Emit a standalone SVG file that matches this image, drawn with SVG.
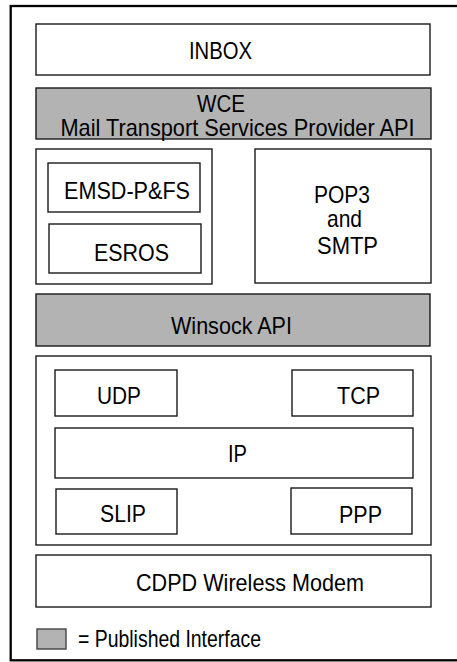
<svg xmlns="http://www.w3.org/2000/svg" width="457" height="662" viewBox="0 0 457 662">
<style>
.box{fill:#ffffff;stroke:#1a1a1a;stroke-width:1.4}
.pub{fill:#b3b3b3;stroke:#1a1a1a;stroke-width:1.4}
.t{font-family:"Liberation Sans",Arial,Helvetica,sans-serif;font-size:24px;fill:#000}
</style>
<rect x="0" y="0" width="457" height="662" fill="#ffffff"/>
<rect id="frame" x="10.7" y="6" width="470" height="654.3" fill="none" stroke="#000" stroke-width="2.3"/>
<g id="inbox"><rect class="box" x="36" y="24" width="394" height="51"/><text class="t" x="189" y="59" textLength="63" lengthAdjust="spacingAndGlyphs">INBOX</text></g>
<g id="wce"><rect class="pub" x="36" y="88" width="395" height="51"/><text class="t" x="197" y="112" textLength="48" lengthAdjust="spacingAndGlyphs">WCE</text><text class="t" x="60.5" y="135.5" textLength="354" lengthAdjust="spacingAndGlyphs">Mail Transport Services Provider API</text></g>
<g id="emsd-container"><rect class="box" x="36" y="149" width="176" height="135"/></g>
<g id="emsd"><rect class="box" x="48" y="163" width="152" height="49"/><text class="t" x="64" y="199" textLength="126" lengthAdjust="spacingAndGlyphs">EMSD-P&amp;FS</text></g>
<g id="esros"><rect class="box" x="49" y="224" width="152" height="49"/><text class="t" x="94" y="261" textLength="75" lengthAdjust="spacingAndGlyphs">ESROS</text></g>
<g id="pop3"><rect class="box" x="255" y="149" width="176" height="134"/><text class="t" x="314" y="203" textLength="56" lengthAdjust="spacingAndGlyphs">POP3</text><text class="t" x="327" y="226.5" textLength="35" lengthAdjust="spacingAndGlyphs">and</text><text class="t" x="317" y="254" textLength="61" lengthAdjust="spacingAndGlyphs">SMTP</text></g>
<g id="winsock"><rect class="pub" x="36" y="294" width="394" height="52"/><text class="t" x="171" y="334" textLength="121" lengthAdjust="spacingAndGlyphs">Winsock API</text></g>
<g id="tcpip-container"><rect class="box" x="36" y="356" width="395" height="189"/></g>
<g id="udp"><rect class="box" x="55" y="370" width="122" height="46"/><text class="t" x="97" y="404" textLength="44" lengthAdjust="spacingAndGlyphs">UDP</text></g>
<g id="tcp"><rect class="box" x="292" y="370" width="121" height="46"/><text class="t" x="337" y="404" textLength="43" lengthAdjust="spacingAndGlyphs">TCP</text></g>
<g id="ip"><rect class="box" x="55" y="428" width="358" height="50"/><text class="t" x="228" y="462" textLength="19" lengthAdjust="spacingAndGlyphs">IP</text></g>
<g id="slip"><rect class="box" x="56" y="489" width="121" height="45"/><text class="t" x="100" y="521.5" textLength="46" lengthAdjust="spacingAndGlyphs">SLIP</text></g>
<g id="ppp"><rect class="box" x="291" y="488" width="121" height="46"/><text class="t" x="339" y="522.5" textLength="43" lengthAdjust="spacingAndGlyphs">PPP</text></g>
<g id="cdpd"><rect class="box" x="36" y="555" width="395" height="52"/><text class="t" x="136" y="591" textLength="228" lengthAdjust="spacingAndGlyphs">CDPD Wireless Modem</text></g>
<g id="legend"><rect class="pub" x="37" y="629" width="29" height="20" style="stroke:#444"/><text class="t" x="78" y="647" textLength="183" lengthAdjust="spacingAndGlyphs">= Published Interface</text></g>
<g id="connectors"></g>
</svg>
